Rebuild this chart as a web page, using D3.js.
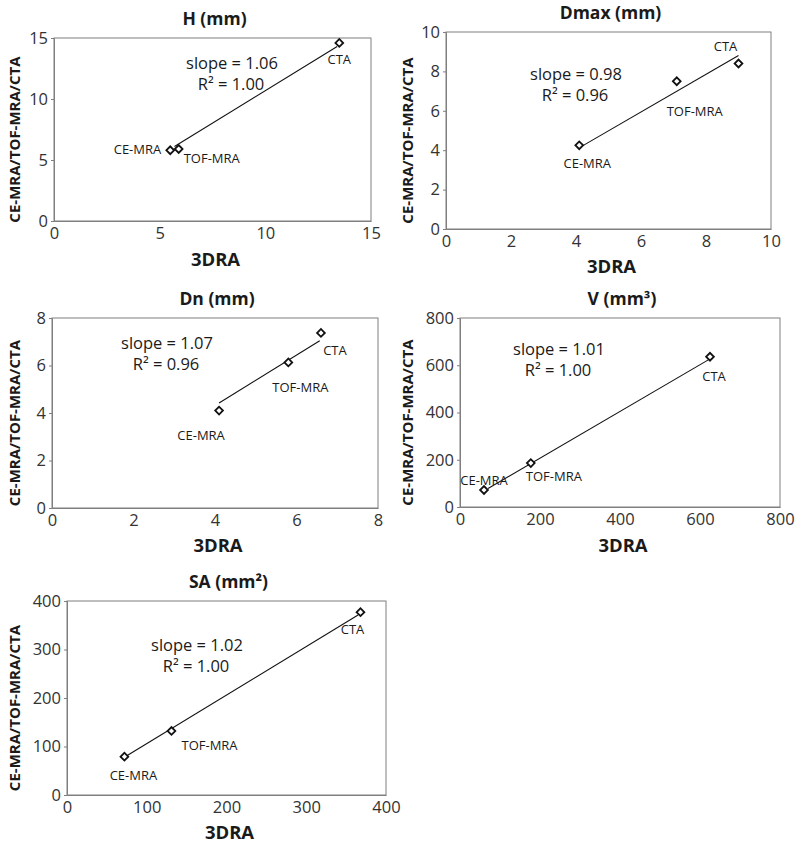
<!DOCTYPE html>
<html><head><meta charset="utf-8">
<script src="https://cdn.jsdelivr.net/npm/d3@7"></script>
<style>
body{margin:0;background:#fff;}
text{font-family:"Open Sans","Liberation Sans",sans-serif;}
</style></head>
<body><svg id="c" width="800" height="847"></svg>
<script>
// ---- data ----
const methods = ["CE-MRA", "TOF-MRA", "CTA"];
const titles = ["H (mm)", "Dmax (mm)", "Dn (mm)", "V (mm³)", "SA (mm²)"];
const hX = [5.5, 5.9, 13.5],  hY = [5.8, 5.9, 14.6];
const dmaxX = [4.1, 7.1, 9.0], dmaxY = [4.25, 7.5, 8.4];
const dnX = [4.1, 5.8, 6.6],  dnY = [4.1, 6.13, 7.37];
const vX = [60, 177, 625],    vY = [72, 186, 636];
const saX = [72, 131, 368],   saY = [79, 132, 377];
const hTrendX = [5.7, 13.4],  hTrendY = [6.1, 14.3];
const dmaxTrendX = [4.2, 9.0], dmaxTrendY = [4.22, 8.81];
const dnTrendX = [4.1, 6.57], dnTrendY = [4.42, 7.04];
const vTrendX = [70, 625],    vTrendY = [78, 627];
const saTrendX = [75, 365],   saTrendY = [81, 371];
const slopes = ["1.06", "0.98", "1.07", "1.01", "1.02"];
const r2s = ["1.00", "0.96", "0.96", "1.00", "1.00"];
const hTicks = [0, 5, 10, 15];
const dmaxTicks = [0, 2, 4, 6, 8, 10];
const dnTicks = [0, 2, 4, 6, 8];
const vTicks = [0, 200, 400, 600, 800];
const saTicks = [0, 100, 200, 300, 400];

// ---- layout ----
const panels = [
  {x:hX, y:hY, tx:hTrendX, ty:hTrendY, ticks:hTicks, rect:[54,38,371,221], ytx:15, xto:45,
   labels:[[-9,4,"end"],[5,14,"start"],[0,21,"middle"]], eq:[232,63]},
  {x:dmaxX, y:dmaxY, tx:dmaxTrendX, ty:dmaxTrendY, ticks:dmaxTicks, rect:[446,32,771,229], ytx:408, xto:44,
   labels:[[8,23,"middle"],[18,35,"middle"],[-13,-13,"middle"]], eq:[576,74]},
  {x:dnX, y:dnY, tx:dnTrendX, ty:dnTrendY, ticks:dnTicks, rect:[52,318,378,508], ytx:15, xto:44,
   labels:[[-18,29,"middle"],[12,30,"middle"],[14,22,"middle"]], eq:[167,343]},
  {x:vX, y:vY, tx:vTrendX, ty:vTrendY, ticks:vTicks, rect:[460,318,780,507], ytx:408, xto:45,
   labels:[[0,-5,"middle"],[-5,18,"start"],[4,24,"middle"]], eq:[559,349]},
  {x:saX, y:saY, tx:saTrendX, ty:saTrendY, ticks:saTicks, rect:[67,601,386,795], ytx:15, xto:44,
   labels:[[9,23,"middle"],[10,19,"start"],[-8,22,"middle"]], eq:[197,645]}
];

const svg = d3.select("#c");
const diamond = d3.symbol().type(d3.symbolSquare).size(30);

panels.forEach((p, i) => {
  const [l, t, r, b] = p.rect;
  const max = p.ticks[p.ticks.length - 1];
  const xs = d3.scaleLinear().domain([0, max]).range([l, r]);
  const ys = d3.scaleLinear().domain([0, max]).range([b, t]);
  const g = svg.append("g");

  // frame
  g.append("rect").attr("x", l).attr("y", t).attr("width", r - l).attr("height", b - t)
    .attr("fill", "none").attr("stroke", "#7f7f7f").attr("stroke-width", 1);

  const xa = g.append("g").attr("transform", `translate(0,${b})`)
    .call(d3.axisBottom(xs).tickValues(p.ticks).tickSize(0).tickPadding(6).tickFormat(d3.format("d")));
  const ya = g.append("g").attr("transform", `translate(${l},0)`)
    .call(d3.axisLeft(ys).tickValues(p.ticks).tickSize(3).tickPadding(3).tickFormat(d3.format("d")));
  [xa, ya].forEach(a => {
    a.select(".domain").attr("stroke", "#7f7f7f");
    a.selectAll(".tick line").attr("stroke", "#7f7f7f");
    a.selectAll("text").attr("font-size", 16.5).attr("fill", "#333")
      .style("font-family", "'Open Sans',sans-serif");
  });

  // title
  g.append("text").attr("x", (l + r) / 2 + 2).attr("y", t - 13).attr("text-anchor", "middle")
    .attr("font-size", 17.5).attr("font-weight", "bold").attr("fill", "#1a1a1a").text(titles[i]);
  // x axis title
  g.append("text").attr("x", (l + r) / 2 + 3).attr("y", b + p.xto).attr("text-anchor", "middle")
    .attr("font-size", 18.5).attr("font-weight", "bold").attr("fill", "#1a1a1a").text("3DRA");
  // y axis title
  g.append("text").attr("transform", `translate(${p.ytx},${(t + b) / 2 + 10}) rotate(-90)`)
    .attr("text-anchor", "middle").attr("dy", "0.35em")
    .attr("font-size", 15).attr("font-weight", "bold").attr("fill", "#1a1a1a").text("CE-MRA/TOF-MRA/CTA");

  // trend line
  g.append("line").attr("x1", xs(p.tx[0])).attr("y1", ys(p.ty[0]))
    .attr("x2", xs(p.tx[1])).attr("y2", ys(p.ty[1]))
    .attr("stroke", "#111").attr("stroke-width", 1.1);

  // points
  p.x.forEach((xv, k) => {
    const px = xs(xv), py = ys(p.y[k]);
    g.append("path").attr("d", diamond)
      .attr("transform", `translate(${px},${py}) rotate(45)`)
      .attr("fill", "#fff").attr("stroke", "#111").attr("stroke-width", 1.8);
    const [dx, dy, anc] = p.labels[k];
    g.append("text").attr("x", px + dx).attr("y", py + dy).attr("text-anchor", anc)
      .attr("font-size", 13).attr("fill", "#1a1a1a").text(methods[k]);
  });

  // equation
  g.append("text").attr("x", p.eq[0]).attr("y", p.eq[1] + 6).attr("text-anchor", "middle")
    .attr("font-size", 16.5).attr("fill", "#1a1a1a").text("slope = " + slopes[i]);
  g.append("text").attr("x", p.eq[0] - 1).attr("y", p.eq[1] + 27).attr("text-anchor", "middle")
    .attr("font-size", 16.5).attr("fill", "#1a1a1a").text("R² = " + r2s[i]);
});
</script></body></html>
